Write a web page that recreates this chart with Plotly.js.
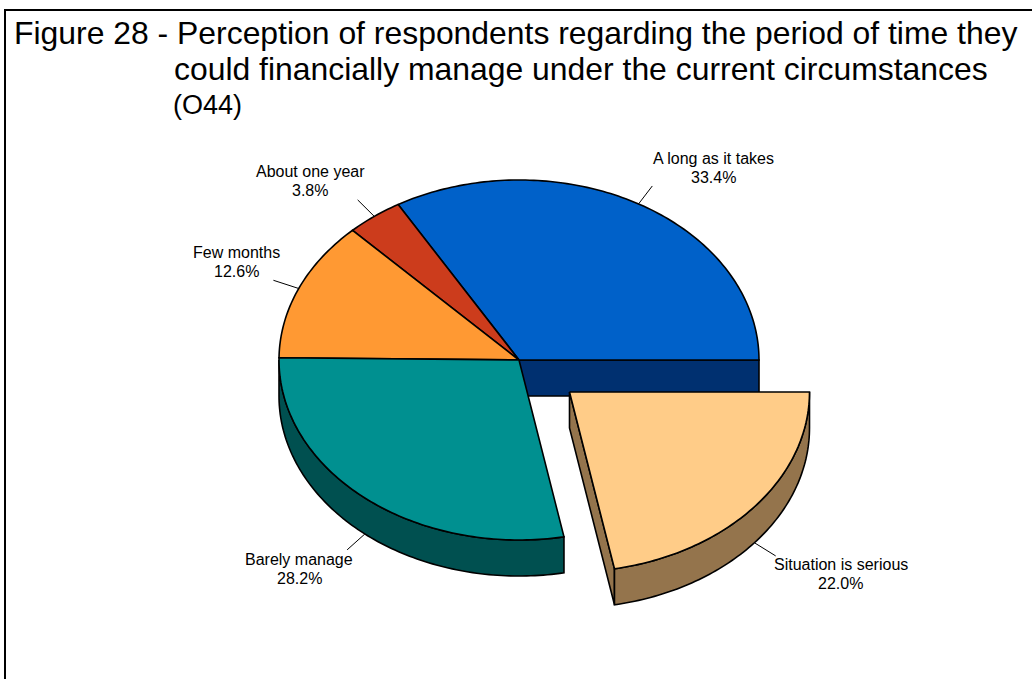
<!DOCTYPE html>
<html>
<head>
<meta charset="utf-8">
<script src="https://cdn.plot.ly/plotly-3.0.1.min.js"></script>
<style>html,body{margin:0;padding:0;background:#fff}#chart{width:1032px;height:679px}</style>
</head>
<body>
<div id="chart"></div>
<script>
// Survey answers, counter-clockwise from the east edge of the pie
const categories = ["A long as it takes", "About one year", "Few months", "Barely manage", "Situation is serious"];
const shares = [33.4, 3.8, 12.6, 28.2, 22.0];
const topColors = ["#0061C9", "#CC3C1C", "#FF9933", "#009090", "#FFCC88"];
const sideColors = ["#003070", "#662010", "#805020", "#005050", "#94744C"];
const pulledOut = [false, false, false, false, true];

// Label centres relative to the outer end of each leader line
const labelShiftX = [61, -47.5, -37, -48, 65];
const labelShiftY = [-18, -19, -18.5, 19, 18];

// Drawing geometry, in axis units (one unit is one screen pixel)
const CX = 519, CY = 360, RX = 240, RY = 180, DEPTH = 36;
const PULL_X = 50.5, PULL_Y = 32;
const LEADER = 1.115;
const LABEL_LINE_GAP = 18.8;
const INK = "#000000";
const FONT = "Liberation Sans, Arial, sans-serif";

const rad = d => d * Math.PI / 180;

function rim(cx, cy, deg, scale = 1, drop = 0) {
  return [cx + RX * scale * Math.cos(rad(deg)), cy - RY * scale * Math.sin(rad(deg)) + drop];
}

function arc(cx, cy, from, to, drop = 0) {
  const pts = [];
  const steps = Math.max(2, Math.ceil(Math.abs(to - from)));
  for (let i = 0; i <= steps; i++) {
    pts.push(rim(cx, cy, from + (to - from) * i / steps, 1, drop));
  }
  return pts;
}

function polygon(pts, color) {
  const closed = pts.concat([pts[0]]);
  return {
    type: "scatter", mode: "lines", fill: "toself", fillcolor: color,
    x: closed.map(p => p[0]), y: closed.map(p => p[1]),
    line: {color: INK, width: 1.6, simplify: false},
    hoverinfo: "skip", showlegend: false
  };
}

// Slice extents derived from the shares
let running = 0;
const slices = shares.map((share, i) => {
  const from = running * 3.6;
  running += share;
  const to = running * 3.6;
  const cx = pulledOut[i] ? CX + PULL_X : CX;
  const cy = pulledOut[i] ? CY + PULL_Y : CY;
  return {i, from, to, mid: (from + to) / 2, cx, cy};
});

function sliceTraces(s) {
  const out = [];
  // Radial wall on the start edge, only when it faces the viewer
  if (Math.cos(rad(s.from)) > 0) {
    const e = rim(s.cx, s.cy, s.from);
    out.push(polygon([[s.cx, s.cy], e, [e[0], e[1] + DEPTH], [s.cx, s.cy + DEPTH]], sideColors[s.i]));
  }
  // Outer wall for the part of the rim on the near side
  const a = Math.max(s.from, 180), b = Math.min(s.to, 360);
  if (b > a) {
    const upper = arc(s.cx, s.cy, a, b);
    const lower = arc(s.cx, s.cy, b, a, DEPTH);
    out.push(polygon(upper.concat(lower), sideColors[s.i]));
  }
  // Top face
  out.push(polygon([[s.cx, s.cy]].concat(arc(s.cx, s.cy, s.from, s.to)), topColors[s.i]));
  return out;
}

// Painter's order: slices in place first, the pulled-out slice on top
const traces = [];
slices.filter(s => !pulledOut[s.i]).forEach(s => traces.push(...sliceTraces(s)));
slices.filter(s => pulledOut[s.i]).forEach(s => traces.push(...sliceTraces(s)));

// Leader lines and their two-line labels
const annotations = [];
const labelFont = {family: FONT, size: 16, color: "#000000"};
function labelLine(x, y, text) {
  annotations.push({
    xref: "x", yref: "y", showarrow: false, x, y,
    xanchor: "center", yanchor: "middle", align: "center", text, font: labelFont
  });
}
slices.forEach(s => {
  const drop = s.mid > 180 ? DEPTH : 0;
  const p0 = rim(s.cx, s.cy, s.mid, 1, drop);
  const p1 = rim(s.cx, s.cy, s.mid, LEADER, drop);
  traces.push({
    type: "scatter", mode: "lines",
    x: [p0[0], p1[0]], y: [p0[1], p1[1]],
    line: {color: INK, width: 1},
    hoverinfo: "skip", showlegend: false
  });
  const lx = p1[0] + labelShiftX[s.i], ly = p1[1] + labelShiftY[s.i];
  labelLine(lx, ly - LABEL_LINE_GAP / 2, categories[s.i]);
  labelLine(lx, ly + LABEL_LINE_GAP / 2, shares[s.i].toFixed(1) + "%");
});

// Continuation lines of the heading
const headFont = {family: FONT, size: 31.9, color: "#000000"};
annotations.push({
  xref: "x", yref: "y", showarrow: false, x: 172, y: 69, xanchor: "left", yanchor: "middle",
  text: "could financially manage under the current circumstances", font: headFont
});
annotations.push({
  xref: "x", yref: "y", showarrow: false, x: 171, y: 105, xanchor: "left", yanchor: "middle",
  text: "(O44)", font: {family: FONT, size: 27, color: "#000000"}
});

const layout = {
  width: 1032, height: 679,
  margin: {l: 0, r: 0, t: 0, b: 0},
  paper_bgcolor: "#ffffff", plot_bgcolor: "#ffffff",
  showlegend: false,
  title: {
    text: "Figure 28 - Perception of respondents regarding the period of time they",
    font: headFont, x: 14 / 1032, xanchor: "left", xref: "paper",
    y: 1 - 33 / 679, yanchor: "middle", yref: "container"
  },
  xaxis: {range: [0, 1032], visible: false, fixedrange: true},
  yaxis: {range: [679, 0], visible: false, fixedrange: true},
  annotations,
  shapes: [{
    type: "path", xref: "x", yref: "y",
    path: "M5,679 L5,10 L1032,10",
    line: {color: "#000000", width: 2}
  }]
};

Plotly.newPlot("chart", traces, layout, {displayModeBar: false, staticPlot: true});
</script>
</body>
</html>
